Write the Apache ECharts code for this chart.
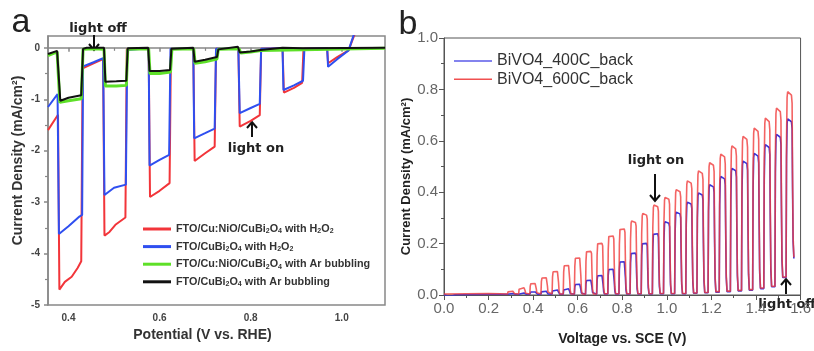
<!DOCTYPE html>
<html><head><meta charset="utf-8">
<script src="https://cdn.jsdelivr.net/npm/echarts@6/dist/echarts.min.js"></script>
<style>html,body{margin:0;padding:0;background:#fff}#c{width:814px;height:351px}</style>
</head><body><div id="c"></div>
<script>
// ================= Panel a data =================
const aXTicks = [0.4, 0.6, 0.8, 1.0];
const aXMinor = [0.5, 0.7, 0.9];
const aYTicks = [0, -1, -2, -3, -4, -5];
const aYMinor = [-0.5, -1.5, -2.5, -3.5, -4.5];

const aRed = [[0.355,-1.60],[0.377,-1.30],[0.380,-4.70],[0.392,-4.55],[0.407,-4.45],[0.420,-4.28],[0.428,-4.15],[0.431,-0.40],[0.455,-0.30],[0.476,-0.22],[0.479,-3.65],[0.490,-3.58],[0.503,-3.44],[0.525,-3.30],[0.528,-0.03],[0.576,-0.01],[0.579,-2.90],[0.600,-2.78],[0.622,-2.63],[0.625,-0.02],[0.674,-0.01],[0.677,-2.20],[0.700,-2.05],[0.721,-1.92],[0.724,-0.02],[0.773,-0.01],[0.776,-1.53],[0.800,-1.42],[0.820,-1.31],[0.823,-0.02],[0.870,-0.01],[0.873,-0.87],[0.895,-0.78],[0.913,-0.68],[0.916,-0.02],[0.968,-0.01],[0.970,-0.30],[0.990,-0.18],[1.015,-0.05],[1.032,0.35]];
const aBlue = [[0.355,-1.15],[0.376,-0.90],[0.379,-3.62],[0.400,-3.47],[0.424,-3.28],[0.430,-3.25],[0.432,-0.36],[0.455,-0.28],[0.476,-0.20],[0.479,-2.86],[0.500,-2.72],[0.526,-2.66],[0.529,-0.04],[0.576,-0.01],[0.578,-2.29],[0.600,-2.18],[0.621,-2.08],[0.624,-0.02],[0.674,-0.01],[0.676,-1.76],[0.700,-1.66],[0.721,-1.57],[0.724,-0.02],[0.773,-0.01],[0.776,-1.27],[0.800,-1.17],[0.820,-1.09],[0.823,-0.02],[0.870,-0.01],[0.872,-0.82],[0.895,-0.73],[0.915,-0.64],[0.918,-0.02],[0.968,-0.01],[0.970,-0.37],[0.990,-0.22],[1.015,-0.05],[1.030,0.35]];
const aGreen = [[0.355,-0.15],[0.375,-0.08],[0.381,-1.06],[0.400,-1.03],[0.428,-0.99],[0.432,-0.03],[0.455,-0.02],[0.478,-0.03],[0.481,-0.74],[0.505,-0.74],[0.527,-0.73],[0.530,-0.03],[0.576,-0.02],[0.579,-0.50],[0.600,-0.50],[0.624,-0.47],[0.627,-0.03],[0.675,-0.02],[0.678,-0.30],[0.700,-0.27],[0.726,-0.22],[0.729,-0.03],[0.775,-0.02],[0.778,-0.10],[0.800,-0.08],[0.822,-0.05],[0.826,-0.02],[1.095,-0.01]];
const aBlack = [[0.355,-0.12],[0.375,-0.06],[0.382,-1.03],[0.400,-0.97],[0.428,-0.92],[0.432,-0.02],[0.440,0.0],[0.478,0.0],[0.481,-0.66],[0.505,-0.65],[0.527,-0.64],[0.530,-0.01],[0.575,0.0],[0.578,-0.45],[0.600,-0.45],[0.623,-0.43],[0.626,-0.02],[0.674,0.0],[0.677,-0.27],[0.700,-0.23],[0.726,-0.18],[0.729,-0.03],[0.772,0.02],[0.776,-0.09],[0.800,-0.07],[0.822,-0.04],[0.826,-0.01],[0.870,0.0],[0.873,-0.02],[0.915,-0.01],[1.095,0.0]];

const aNames = ['FTO/Cu:NiO/CuBi2O4 with H2O2','FTO/CuBi2O4 with H2O2','FTO/Cu:NiO/CuBi2O4 with Ar bubbling','FTO/CuBi2O4 with Ar bubbling'];
const aLegendRich = {
  'FTO/Cu:NiO/CuBi2O4 with H2O2': '{t|FTO/Cu:NiO/CuBi}{s|2}{t|O}{s|4}{t| with H}{s|2}{t|O}{s|2}',
  'FTO/CuBi2O4 with H2O2': '{t|FTO/CuBi}{s|2}{t|O}{s|4}{t| with H}{s|2}{t|O}{s|2}',
  'FTO/Cu:NiO/CuBi2O4 with Ar bubbling': '{t|FTO/Cu:NiO/CuBi}{s|2}{t|O}{s|4}{t| with Ar bubbling}',
  'FTO/CuBi2O4 with Ar bubbling': '{t|FTO/CuBi}{s|2}{t|O}{s|4}{t| with Ar bubbling}'
};

// ================= Panel b data =================
const bNames = ['BiVO4_400C_back','BiVO4_600C_back'];
// light-on potentials (V vs SCE)
const bLightOn = [0.285,0.335,0.385,0.435,0.485,0.535,0.585,0.635,0.685,0.735,0.785,0.835,0.885,0.935,0.985,1.035,1.085,1.135,1.185,1.235,1.285,1.335,1.385,1.435,1.485,1.535];
const bRedPeak = [0.015,0.029,0.045,0.068,0.093,0.117,0.147,0.173,0.205,0.234,0.262,0.288,0.317,0.350,0.380,0.410,0.444,0.483,0.515,0.548,0.580,0.617,0.649,0.688,0.727,0.791];
const bBluePeak = [0.006,0.008,0.012,0.015,0.020,0.025,0.042,0.058,0.077,0.102,0.132,0.166,0.205,0.243,0.285,0.322,0.361,0.397,0.429,0.461,0.493,0.521,0.551,0.585,0.625,0.685];
const bRedDark = [0.004,0.004,0.004,0.004,0.004,0.004,0.004,0.004,0.004,0.005,0.005,0.005,0.005,0.005,0.006,0.006,0.006,0.008,0.010,0.013,0.015,0.018,0.021,0.027,0.034,0.070];
const bBlueDark = [0.003,0.003,0.003,0.003,0.003,0.003,0.003,0.003,0.003,0.004,0.004,0.004,0.004,0.004,0.005,0.005,0.005,0.007,0.009,0.011,0.013,0.016,0.019,0.025,0.032,0.068];
const bRedStart = [[0.0,0.004],[0.10,0.005],[0.20,0.006],[0.25,0.005]];
const bBlueStart = [[0.0,0.002],[0.015,-0.004],[0.035,-0.004],[0.05,0.001],[0.20,0.003],[0.25,0.003]];
const bRedEnd = 0.147;
const bBlueEnd = 0.142;

function buildPulses(start, on, peak, dark, endVal) {
  const pts = start.slice();
  for (let k = 0; k < on.length; k++) {
    const s = on[k], p = peak[k], d0 = dark[k];
    const d1 = (k === on.length - 1) ? endVal : dark[k + 1];
    pts.push([s, d0]);
    pts.push([s + 0.002, d0 + (p - d0) * 0.75]);
    pts.push([s + 0.0045, d0 + (p - d0) * 0.97]);
    pts.push([s + 0.007, p]);
    pts.push([s + 0.024, p - (p - d1) * 0.02]);
    pts.push([s + 0.027, p - (p - d1) * 0.07]);
    pts.push([s + 0.029, d1 + (p - d1) * 0.5]);
    pts.push([s + 0.0315, d1 + (p - d1) * 0.12]);
    pts.push([s + 0.035, d1]);
  }
  return pts;
}

const FONT = 'Arial, "Liberation Sans", sans-serif';
const chart = echarts.init(document.getElementById('c'), null, {renderer: 'canvas'});

const boldA = {fontFamily: FONT, fontWeight: 'bold', color: '#444', fontSize: 10};

function arrow(x, y1, y2, up) {
  const hy = up ? Math.min(y1, y2) : Math.max(y1, y2);
  const d = up ? 6 : -6;
  return [
    {type: 'line', shape: {x1: x, y1: y1, x2: x, y2: y2}, style: {stroke: '#111', lineWidth: 2}},
    {type: 'polyline', shape: {points: [[x - 5, hy + d], [x, hy], [x + 5, hy + d]]}, style: {stroke: '#111', lineWidth: 2, fill: null}}
  ];
}
const annFont = 'bold 13px "DejaVu Sans", Verdana, sans-serif';

const option = {
  animation: false,
  textStyle: {fontFamily: FONT},
  grid: [
    {left: 48, top: 36, width: 337, height: 269, show: true, borderColor: '#888', borderWidth: 1.5, backgroundColor: 'transparent'},
    {left: 444, top: 38, width: 357, height: 260, show: true, borderColor: '#555', borderWidth: 1, backgroundColor: 'transparent'}
  ],
  xAxis: [
    {gridIndex: 0, type: 'value', min: 0.355, max: 1.095, position: 'bottom',
      axisLine: {show: true, lineStyle: {color: '#888', width: 1.5}},
      axisTick: {show: true, length: 4, customValues: aXTicks, lineStyle: {color: '#888', width: 1.5}},
      axisLabel: Object.assign({customValues: aXTicks, margin: 8, formatter: v => v.toFixed(1)}, boldA),
      splitLine: {show: false},
      name: 'Potential (V vs. RHE)', nameLocation: 'middle', nameGap: 20,
      nameTextStyle: {fontFamily: FONT, fontWeight: 'bold', fontSize: 14, color: '#333', padding: [0, 28, 0, 0]}},
    {gridIndex: 0, type: 'value', min: 0.355, max: 1.095, position: 'bottom',
      axisLine: {show: false}, axisLabel: {show: false}, splitLine: {show: false},
      axisTick: {show: true, length: 3, customValues: aXMinor, lineStyle: {color: '#888', width: 1.2}}},
    {gridIndex: 1, type: 'value', min: 0, max: 1.6, interval: 0.2, position: 'bottom',
      axisLine: {show: true, lineStyle: {color: '#555', width: 1}},
      axisTick: {show: true, length: 5, lineStyle: {color: '#555'}},
      minorTick: {show: true, splitNumber: 2, length: 3, lineStyle: {color: '#555'}},
      axisLabel: {fontFamily: FONT, fontSize: 15, color: '#666', margin: 6, formatter: v => v.toFixed(1)},
      splitLine: {show: false},
      name: 'Voltage vs. SCE (V)', nameLocation: 'middle', nameGap: 37,
      nameTextStyle: {fontFamily: FONT, fontWeight: 'bold', fontSize: 14, color: '#222'}}
  ],
  yAxis: [
    {gridIndex: 0, type: 'value', min: -5, max: 0.23, position: 'left',
      axisLine: {show: true, lineStyle: {color: '#888', width: 1.5}},
      axisTick: {show: true, length: 4, customValues: aYTicks, lineStyle: {color: '#888', width: 1.5}},
      axisLabel: Object.assign({customValues: aYTicks, margin: 8, formatter: v => String(v)}, boldA),
      splitLine: {show: false},
      name: 'Current Density (mA/cm²)', nameLocation: 'middle', nameGap: 23, nameRotate: 90,
      nameTextStyle: {fontFamily: FONT, fontWeight: 'bold', fontSize: 14, color: '#333', padding: [0, 0, 0, 20]}},
    {gridIndex: 0, type: 'value', min: -5, max: 0.23, position: 'left',
      axisLine: {show: false}, axisLabel: {show: false}, splitLine: {show: false},
      axisTick: {show: true, length: 3, customValues: aYMinor, lineStyle: {color: '#888', width: 1.2}}},
    {gridIndex: 1, type: 'value', min: 0, max: 1.0, interval: 0.2, position: 'left',
      axisLine: {show: true, lineStyle: {color: '#555', width: 1}},
      axisTick: {show: true, length: 5, lineStyle: {color: '#555'}},
      minorTick: {show: true, splitNumber: 2, length: 3, lineStyle: {color: '#555'}},
      axisLabel: {fontFamily: FONT, fontSize: 15, color: '#666', margin: 6, formatter: v => v.toFixed(1)},
      splitLine: {show: false},
      name: 'Current Density (mA/cm²)', nameLocation: 'middle', nameGap: 24, nameRotate: 90,
      nameTextStyle: {fontFamily: FONT, fontWeight: 'bold', fontSize: 13, color: '#222', padding: [0, 20, 0, 0]}}
  ],
  legend: [
    {orient: 'vertical', left: 138, top: 218, itemWidth: 28, itemHeight: 3, itemGap: 5.6, icon: 'rect',
      data: aNames, formatter: n => aLegendRich[n],
      textStyle: {rich: {
        t: {fontFamily: FONT, fontWeight: 'bold', fontSize: 10.8, color: '#333', lineHeight: 12},
        s: {fontFamily: FONT, fontWeight: 'bold', fontSize: 7, color: '#333', lineHeight: 12, padding: [5, 0, 0, 0]}
      }}},
    {orient: 'vertical', left: 449, top: 48, itemWidth: 38, itemHeight: 1.5, itemGap: 2.3, icon: 'rect',
      data: bNames, textStyle: {fontFamily: FONT, fontSize: 16, color: '#333', lineHeight: 16}}
  ],
  series: [
    {name: aNames[0], type: 'line', xAxisIndex: 0, yAxisIndex: 0, data: aRed, symbol: 'none', clip: true,
      lineStyle: {color: '#f2353a', width: 2}, itemStyle: {color: '#f2353a'}},
    {name: aNames[1], type: 'line', xAxisIndex: 0, yAxisIndex: 0, data: aBlue, symbol: 'none', clip: true,
      lineStyle: {color: '#2f4ff0', width: 2}, itemStyle: {color: '#2f4ff0'}},
    {name: aNames[2], type: 'line', xAxisIndex: 0, yAxisIndex: 0, data: aGreen, symbol: 'none', clip: true,
      lineStyle: {color: '#5ee028', width: 3}, itemStyle: {color: '#5ee028'}},
    {name: aNames[3], type: 'line', xAxisIndex: 0, yAxisIndex: 0, data: aBlack, symbol: 'none', clip: true,
      lineStyle: {color: '#111', width: 2}, itemStyle: {color: '#111'}},
    {name: bNames[0], type: 'line', xAxisIndex: 2, yAxisIndex: 2, symbol: 'none', clip: true,
      data: buildPulses(bBlueStart, bLightOn, bBluePeak, bBlueDark, bBlueEnd),
      lineStyle: {color: '#3c34d8', width: 1.6}, itemStyle: {color: '#5a5ae8'}},
    {name: bNames[1], type: 'line', xAxisIndex: 2, yAxisIndex: 2, symbol: 'none', clip: true,
      data: buildPulses(bRedStart, bLightOn, bRedPeak, bRedDark, bRedEnd),
      lineStyle: {color: '#f03c3c', width: 1.6, opacity: 0.8}, itemStyle: {color: '#f05050'}}
  ],
  graphic: [
    {type: 'text', style: {text: 'a', x: 21, y: 23, font: '34px Arial, "Liberation Sans"', fill: '#222', textAlign: 'center', textVerticalAlign: 'middle'}},
    {type: 'text', style: {text: 'b', x: 408, y: 25, font: '34px Arial, "Liberation Sans"', fill: '#222', textAlign: 'center', textVerticalAlign: 'middle'}},
    {type: 'text', style: {text: 'light off', x: 98, y: 29, font: annFont, fill: '#222', textAlign: 'center', textVerticalAlign: 'middle'}},
    {type: 'text', style: {text: 'light on', x: 256, y: 149, font: annFont, fill: '#222', textAlign: 'center', textVerticalAlign: 'middle'}},
    {type: 'text', style: {text: 'light on', x: 656, y: 161, font: annFont, fill: '#222', textAlign: 'center', textVerticalAlign: 'middle'}},
    {type: 'text', style: {text: 'light off', x: 787, y: 305, font: annFont, fill: '#222', textAlign: 'center', textVerticalAlign: 'middle'}}
  ].concat(arrow(94, 35, 50, false), arrow(252, 122, 137, true), arrow(655, 174, 201, false), arrow(786, 279, 294, true))
};
chart.setOption(option);
</script></body></html>
